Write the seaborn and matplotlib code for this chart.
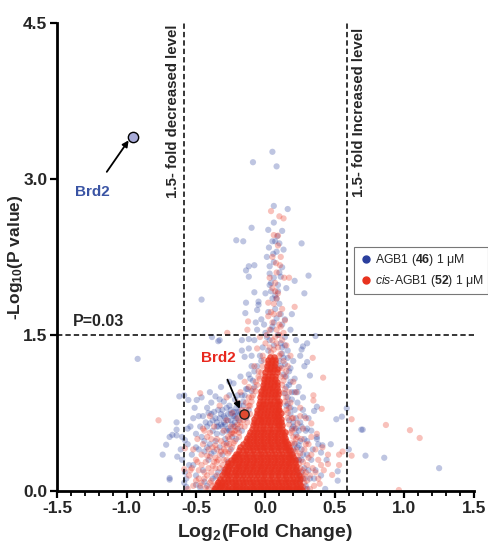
import numpy as np
import pandas as pd
import matplotlib
matplotlib.use("Agg")
import matplotlib.pyplot as plt
from matplotlib.lines import Line2D
from matplotlib.ticker import MultipleLocator
import seaborn as sns

# ---- data ----
# dense red core, where thousands of points overlap: (y in hundredths, list of x in hundredths)
red_core_rows = [
    (1, [-37, -34, -31, -28, -26, -23, -21, -18, -16, -13, -11, -8, -6, -3, -1, 2, 4, 7, 9, 12, 14, 17, 19, 22, 24, 26]),
    (3, [-36, -33, -30, -27, -24, -22, -19, -17, -14, -12, -9, -7, -4, -2, 1, 3, 6, 8, 11, 13, 16, 18, 21, 23, 25]),
    (6, [-35, -33, -31, -29, -26, -23, -21, -18, -16, -13, -10, -8, -5, -3, 0, 2, 5, 7, 10, 12, 15, 17, 20, 22, 25]),
    (9, [-34, -31, -29, -27, -24, -22, -19, -16, -14, -11, -9, -6, -4, -1, 1, 4, 6, 9, 11, 14, 16, 19, 21, 24]),
    (12, [-33, -30, -27, -25, -22, -20, -17, -15, -12, -10, -7, -5, -2, 0, 3, 5, 8, 10, 13, 15, 18, 20, 23, 25]),
    (15, [-31, -28, -26, -23, -21, -18, -16, -13, -11, -8, -6, -3, -1, 2, 4, 7, 9, 12, 14, 17, 19, 22, 24]),
    (18, [-30, -28, -25, -22, -20, -17, -15, -12, -10, -7, -5, -2, 0, 3, 5, 8, 10, 13, 15, 18, 20, 23]),
    (21, [-29, -27, -24, -21, -19, -16, -14, -11, -9, -6, -4, -1, 1, 4, 6, 9, 11, 14, 16, 19, 22]),
    (24, [-28, -26, -23, -20, -18, -15, -13, -10, -8, -5, -3, 0, 2, 5, 7, 10, 12, 15, 17, 20, 22]),
    (27, [-27, -25, -22, -19, -17, -14, -12, -9, -7, -4, -2, 1, 3, 6, 8, 11, 13, 16, 18, 21]),
    (30, [-25, -23, -21, -18, -16, -13, -11, -8, -6, -3, -1, 2, 4, 7, 9, 12, 14, 17, 19, 21]),
    (33, [-23, -22, -19, -17, -14, -12, -9, -7, -4, -2, 1, 3, 6, 8, 11, 13, 16, 18, 20]),
    (36, [-21, -20, -18, -15, -13, -10, -8, -5, -3, 0, 2, 5, 7, 10, 12, 15, 17, 19]),
    (39, [-19, -16, -14, -11, -9, -6, -4, -1, 1, 4, 6, 9, 11, 14, 16, 18]),
    (42, [-18, -15, -12, -10, -7, -5, -2, 0, 3, 5, 8, 10, 13, 15, 17]),
    (45, [-16, -13, -11, -8, -6, -3, -1, 2, 4, 7, 9, 12, 14, 16]),
    (48, [-14, -12, -9, -7, -4, -2, 1, 3, 6, 8, 11, 13, 15]),
    (51, [-13, -11, -8, -6, -3, -1, 2, 4, 7, 9, 12, 14]),
    (54, [-12, -9, -7, -4, -2, 1, 3, 6, 8, 11, 13]),
    (57, [-11, -8, -6, -3, -1, 2, 4, 7, 9, 12, 14]),
    (60, [-10, -7, -5, -2, 0, 3, 5, 8, 10, 12]),
    (63, [-9, -7, -4, -2, 1, 3, 6, 8, 10, 12]),
    (66, [-8, -6, -3, -1, 2, 4, 7, 9, 11]),
    (69, [-8, -5, -3, 0, 2, 5, 7, 9, 11]),
    (72, [-7, -4, -2, 1, 3, 6, 8, 10]),
    (75, [-6, -4, -1, 1, 4, 6, 8, 11]),
    (78, [-6, -3, -1, 2, 4, 7, 9, 10]),
    (81, [-5, -3, 0, 2, 5, 7, 9]),
    (84, [-5, -2, 0, 3, 5, 8, 10]),
    (87, [-4, -2, 1, 3, 6, 8, 10]),
    (90, [-4, -1, 1, 4, 6, 8]),
    (93, [-3, -1, 2, 4, 7, 9]),
    (96, [-3, 0, 2, 5, 7, 9]),
    (99, [-2, 0, 3, 5, 8]),
    (102, [-2, 1, 3, 6, 8]),
    (105, [-1, 1, 4, 6, 8]),
    (108, [-1, 2, 4, 7]),
    (111, [0, 2, 5, 7]),
    (114, [0, 3, 5, 8]),
    (117, [1, 3, 6, 8]),
    (120, [1, 4, 6]),
    (123, [2, 4, 7]),
    (126, [2, 5, 7]),
    (129, [3, 6]),
]

red_scatter = [
    (-0.54, 0.20), (-0.585, 0.21), (-0.58, 0.41), (-0.77, 0.68), (-0.47, 0.94), (-0.50, 0.30),
    (-0.45, 0.45), (-0.42, 0.15), (-0.40, 0.33), (-0.38, 0.05), (-0.36, 0.22), (-0.35, 0.40),
    (-0.33, 0.10), (-0.44, 0.58), (-0.48, 0.12), (-0.52, 0.05), (-0.46, 0.25), (-0.39, 0.50),
    (-0.34, 0.30), (-0.37, 0.62), (-0.32, 0.48), (-0.30, 0.58), (-0.28, 0.68), (-0.26, 0.45),
    (-0.25, 0.55), (-0.24, 0.75), (-0.22, 0.62), (-0.20, 0.85), (-0.18, 0.95), (-0.15, 1.05),
    (-0.12, 1.00), (-0.10, 0.90), (-0.43, 0.03), (-0.56, 0.02), (-0.40, 0.72), (-0.33, 0.82),
    (-0.28, 0.90), (-0.35, 0.15), (-0.31, 0.25), (-0.29, 0.38), (-0.41, 0.22), (-0.37, 0.28),
    (-0.50, 0.10), (-0.48, 0.20), (-0.46, 0.35), (-0.44, 0.12), (-0.43, 0.28), (-0.41, 0.40),
    (-0.40, 0.08), (-0.39, 0.18), (-0.38, 0.42), (-0.37, 0.02), (-0.36, 0.32), (-0.35, 0.50),
    (-0.34, 0.08), (-0.33, 0.22), (-0.32, 0.38), (-0.31, 0.05), (-0.30, 0.45), (-0.29, 0.15),
    (-0.28, 0.30), (-0.27, 0.52), (-0.26, 0.38), (-0.25, 0.62), (-0.24, 0.42), (-0.23, 0.55),
    (-0.22, 0.48), (-0.21, 0.58), (-0.20, 0.70), (-0.19, 0.52), (-0.18, 0.62), (-0.17, 0.78),
    (-0.16, 0.68), (-0.14, 0.85), (-0.13, 0.72), (-0.12, 0.90), (-0.11, 0.82), (-0.09, 0.98),
    (-0.07, 1.05), (-0.05, 1.15), (-0.52, 0.40), (-0.55, 0.15), (-0.49, 0.50), (-0.47, 0.05),
    (-0.45, 0.60), (-0.42, 0.52),
    (-0.36, 0.06), (-0.39, 0.10), (-0.41, 0.02), (-0.44, 0.18), (-0.38, 0.24), (-0.35, 0.28),
    (-0.33, 0.35), (-0.30, 0.40), (-0.28, 0.44), (-0.26, 0.50), (-0.24, 0.56), (-0.22, 0.58),
    (-0.20, 0.64), (-0.18, 0.66), (-0.16, 0.72), (-0.14, 0.78), (-0.12, 0.82), (-0.10, 0.86),
    (-0.09, 0.92), (-0.07, 0.96), (-0.06, 1.02), (-0.04, 1.08), (-0.03, 1.14), (-0.02, 1.20),
    (-0.01, 1.26), (-0.46, 0.08), (-0.42, 0.34), (-0.36, 0.44), (-0.30, 0.30), (-0.27, 0.36),
    (-0.23, 0.46), (-0.19, 0.56), (-0.15, 0.62), (-0.13, 0.66), (-0.11, 0.74), (-0.53, 0.22),
    (-0.49, 0.28), (-0.40, 0.56),
    (0.415, 1.09), (0.345, 0.92), (0.345, 0.87), (0.405, 0.79), (0.62, 0.69), (0.867, 0.635),
    (1.04, 0.585), (1.11, 0.51), (0.62, 0.34), (0.555, 0.38), (0.53, 0.35), (0.53, 0.25),
    (0.48, 0.155), (0.96, 0.01), (0.45, 0.35), (0.45, 0.26), (0.37, 0.55), (0.39, 0.07),
    (0.28, 0.40), (0.30, 0.25), (0.32, 0.15), (0.35, 0.05), (0.27, 0.60), (0.29, 0.70),
    (0.25, 0.80), (0.22, 0.95), (0.20, 1.05), (0.34, 1.28), (0.31, 0.45), (0.42, 0.20),
    (0.38, 0.30), (0.26, 0.50), (0.33, 0.65), (0.24, 0.30), (0.27, 0.12), (0.36, 0.18),
    (0.41, 0.42), (0.29, 0.02), (0.33, 0.35),
    (0.22, 0.10), (0.24, 0.20), (0.26, 0.05), (0.27, 0.28), (0.28, 0.15), (0.29, 0.45),
    (0.30, 0.10), (0.31, 0.32), (0.22, 0.50), (0.21, 0.38), (0.20, 0.70), (0.19, 0.58),
    (0.18, 0.85), (0.17, 0.95), (0.16, 0.75), (0.15, 1.15), (0.14, 0.98), (0.13, 1.25),
    (0.12, 1.18), (0.23, 0.65), (0.25, 0.72), (0.34, 0.22), (0.36, 0.40), (0.33, 0.52),
    (0.32, 0.02), (0.38, 0.12), (0.40, 0.25),
    (0.27, 0.04), (0.28, 0.08), (0.26, 0.14), (0.25, 0.22), (0.24, 0.26), (0.23, 0.34),
    (0.22, 0.40), (0.21, 0.46), (0.20, 0.52), (0.19, 0.46), (0.18, 0.56), (0.17, 0.64),
    (0.16, 0.70), (0.15, 0.78), (0.14, 0.86), (0.13, 0.94), (0.12, 1.02), (0.11, 1.10),
    (0.10, 1.18), (0.10, 1.30), (0.29, 0.18), (0.27, 0.20), (0.25, 0.36), (0.23, 0.52),
    (0.21, 0.60), (0.19, 0.70), (0.17, 0.80), (0.15, 0.90), (0.13, 1.06),
    (0.04, 2.69), (0.10, 2.64), (0.13, 2.62), (0.06, 2.46), (0.09, 2.455), (0.09, 2.36),
    (0.11, 2.25), (0.076, 2.19), (0.104, 2.17), (0.135, 2.05), (0.17, 2.05), (0.02, 1.81),
    (0.21, 1.77), (-0.125, 1.63), (0.14, 1.64), (-0.275, 1.52), (-0.13, 1.55), (-0.06, 1.37),
    (0.05, 1.95), (0.08, 1.85), (0.06, 1.70), (0.10, 1.60), (0.03, 1.55), (0.07, 1.48),
    (0.12, 1.45), (0.00, 1.42), (0.09, 1.38), (0.04, 1.33), (0.11, 1.32), (-0.02, 1.30),
    (0.15, 1.40), (0.05, 1.62), (0.02, 1.68), (0.12, 1.75), (0.07, 2.00), (0.09, 1.90),
    (0.13, 1.52), (-0.04, 1.48), (0.18, 1.30), (0.16, 1.20), (0.14, 1.10), (-0.08, 1.20),
    (-0.05, 1.10), (0.08, 1.42), (0.06, 1.36), (0.10, 1.50),
    (0.03, 1.38), (0.05, 1.45), (0.08, 1.55), (0.04, 1.72), (0.06, 1.80), (0.10, 1.70),
    (0.07, 1.92), (0.03, 2.05), (0.08, 2.10), (0.05, 2.25), (0.01, 1.50), (0.11, 1.58),
]

blue_scatter = [
    (0.05, 3.26), (-0.09, 3.16), (0.08, 3.12), (0.06, 2.74), (0.16, 2.71), (0.06, 2.58),
    (-0.10, 2.53), (0.02, 2.51), (0.12, 2.50), (0.085, 2.45), (-0.21, 2.41), (-0.16, 2.40),
    (0.10, 2.38), (0.26, 2.38), (0.025, 2.34), (0.13, 2.32), (0.056, 2.28), (-0.08, 2.17),
    (-0.12, 2.16), (-0.14, 2.12), (0.03, 2.16), (0.03, 2.09), (-0.12, 2.06), (0.11, 2.06),
    (0.31, 2.07), (0.21, 2.02), (0.09, 1.98), (0.04, 1.92), (-0.08, 1.91), (0.28, 1.90),
    (-0.46, 1.84), (-0.14, 1.81), (-0.05, 1.82), (-0.05, 1.79), (-0.145, 1.71), (-0.06, 1.74),
    (0.19, 1.70), (-0.07, 1.62), (-0.06, 1.55), (-0.385, 1.48), (-0.33, 1.45), (-0.17, 1.45),
    (-0.12, 1.46), (0.36, 1.49), (0.30, 1.42), (0.27, 1.39), (0.26, 1.36), (0.25, 1.30),
    (-0.12, 1.37), (-0.17, 1.35), (-0.10, 1.30), (-0.15, 1.29), (0.30, 1.24), (-0.34, 1.44),
    (-0.92, 1.27),
    (0.04, 2.00), (0.07, 1.88), (0.10, 1.80), (0.02, 1.72), (0.08, 1.66), (0.12, 1.60),
    (0.05, 1.58), (0.00, 1.52), (0.09, 1.50), (0.14, 1.48), (0.03, 1.45), (0.11, 1.42),
    (0.06, 1.40), (0.16, 1.35), (-0.02, 1.38), (0.13, 1.28), (0.20, 1.25), (0.08, 1.85),
    (0.15, 1.95), (-0.03, 1.65), (0.18, 1.55), (0.22, 1.45), (-0.08, 1.45), (0.06, 2.20),
    (0.01, 2.25), (0.07, 2.40), (0.11, 1.70), (0.17, 1.15), (0.21, 1.08), (0.24, 1.00),
    (0.19, 0.95), (0.27, 0.90), (0.23, 0.85),
    (0.01, 1.48), (0.04, 1.55), (0.06, 1.62), (0.07, 1.75), (0.05, 1.85), (0.09, 1.92),
    (0.03, 1.98), (0.10, 2.10), (0.08, 2.30), (0.05, 2.40), (-0.01, 1.60), (0.12, 1.38),
    (0.02, 1.35), (0.10, 1.25), (0.07, 1.20), (-0.03, 1.25), (0.14, 1.65), (0.00, 1.90),
    (0.06, 2.05), (0.12, 2.15),
    (-0.62, 0.91), (-0.585, 0.92), (-0.64, 0.66), (-0.64, 0.59), (-0.67, 0.54), (-0.64, 0.535),
    (-0.69, 0.52), (-0.715, 0.445), (-0.58, 0.49), (-0.74, 0.35), (-0.635, 0.33), (-0.69, 0.125),
    (-0.69, 0.11), (-0.585, 0.08), (-0.555, 0.875), (-0.495, 0.875), (-0.36, 0.91), (-0.23, 1.035),
    (-0.18, 1.10), (-0.60, 0.52), (-0.56, 0.60), (-0.52, 0.70), (-0.50, 0.55), (-0.47, 0.62),
    (-0.45, 0.72), (-0.42, 0.80), (-0.40, 0.65), (-0.38, 0.58), (-0.36, 0.70), (-0.34, 0.78),
    (-0.32, 0.64), (-0.30, 0.72), (-0.28, 0.80), (-0.27, 0.60), (-0.25, 0.68), (-0.23, 0.76),
    (-0.21, 0.70), (-0.19, 0.82), (-0.22, 0.88), (-0.26, 0.92), (-0.30, 0.86), (-0.17, 0.92),
    (-0.14, 0.98), (-0.11, 1.08), (-0.08, 1.15), (-0.20, 0.60), (-0.24, 0.52), (-0.29, 0.50),
    (-0.33, 0.42), (-0.37, 0.38), (-0.41, 0.30), (-0.45, 0.20), (-0.50, 0.15), (-0.53, 0.35),
    (-0.55, 0.25), (-0.48, 0.40), (-0.44, 0.48), (-0.40, 0.45), (-0.35, 0.55), (-0.31, 0.35),
    (-0.27, 0.28), (-0.38, 0.12), (-0.34, 0.18), (-0.42, 0.05), (-0.57, 0.12), (-0.60, 0.30),
    (-0.61, 0.40), (-0.51, 0.80), (-0.46, 0.90), (-0.40, 0.95), (-0.32, 1.00), (-0.26, 1.05),
    (-0.43, 0.66), (-0.39, 0.74), (-0.35, 0.62), (-0.31, 0.56), (-0.27, 0.74), (-0.22, 0.66),
    (-0.33, 0.70), (-0.29, 0.64), (-0.25, 0.78), (-0.21, 0.76), (-0.37, 0.76), (-0.19, 0.68),
    (-0.57, 0.04), (-0.50, 0.06), (-0.47, 0.03), (-0.44, 0.09),
    (-0.58, 0.18), (-0.56, 0.45), (-0.54, 0.62), (-0.52, 0.25), (-0.50, 0.42), (-0.48, 0.72),
    (-0.46, 0.52), (-0.44, 0.38), (-0.42, 0.62), (-0.41, 0.75), (-0.39, 0.85), (-0.38, 0.68),
    (-0.36, 0.48), (-0.34, 0.62), (-0.33, 0.88), (-0.31, 0.78), (-0.29, 0.70), (-0.28, 0.58),
    (-0.26, 0.82), (-0.24, 0.64), (-0.23, 0.72), (-0.21, 0.80), (-0.20, 0.92), (-0.18, 0.74),
    (-0.16, 0.82), (-0.15, 0.92), (-0.13, 0.98), (-0.12, 1.12), (-0.10, 1.20), (-0.09, 1.06),
    (-0.30, 0.66), (-0.27, 0.68), (-0.32, 0.74), (-0.35, 0.66), (-0.25, 0.74), (-0.22, 0.72),
    (-0.28, 0.46), (-0.25, 0.40), (-0.21, 0.50), (-0.17, 0.58), (-0.14, 0.70), (-0.12, 0.78),
    (-0.10, 0.96), (-0.08, 1.00), (-0.06, 1.20), (-0.04, 1.30), (-0.30, 0.20), (-0.33, 0.04),
    (-0.36, 0.14), (-0.39, 0.36), (-0.42, 0.42), (-0.31, 0.62), (-0.26, 0.58), (-0.23, 0.62),
    (-0.19, 0.76), (-0.16, 0.86),
    (0.585, 0.795), (0.55, 0.715), (0.51, 0.69), (0.69, 0.59), (0.70, 0.59), (0.60, 0.40),
    (0.72, 0.34), (0.855, 0.32), (1.25, 0.22), (0.52, 0.19), (0.52, 0.10), (0.40, 0.37),
    (0.38, 0.45), (0.41, 0.44), (0.37, 0.50), (0.37, 0.52), (0.43, 0.02), (0.32, 1.11),
    (0.28, 1.20), (0.37, 0.81), (0.35, 0.77), (0.30, 0.60), (0.28, 0.50), (0.26, 0.40),
    (0.24, 0.30), (0.22, 0.20), (0.25, 0.10), (0.29, 0.05), (0.33, 0.30), (0.31, 0.70),
    (0.27, 0.78), (0.22, 0.70), (0.20, 0.62), (0.18, 0.80), (0.16, 0.90), (0.24, 0.58),
    (0.34, 0.40), (0.36, 0.20), (0.32, 0.12), (0.30, 0.35), (0.26, 0.18), (0.21, 0.45),
    (0.19, 0.35), (0.23, 0.95), (0.15, 1.00), (0.18, 1.05), (0.40, 0.15), (0.44, 0.30),
    (0.47, 0.45),
    (0.15, 1.10), (0.17, 1.02), (0.19, 0.88), (0.21, 0.78), (0.22, 0.60), (0.23, 0.42),
    (0.24, 0.15), (0.25, 0.48), (0.26, 0.62), (0.27, 0.35), (0.28, 0.22), (0.29, 0.58),
    (0.30, 0.48), (0.31, 0.20), (0.33, 0.58), (0.35, 0.12), (0.21, 0.95), (0.18, 1.18),
    (0.14, 1.22), (0.16, 1.28),
    (0.14, 0.94), (0.16, 0.84), (0.18, 0.74), (0.20, 0.66), (0.22, 0.54), (0.24, 0.44),
    (0.26, 0.30), (0.28, 0.12), (0.30, 0.02), (0.20, 0.40), (0.22, 0.30), (0.19, 0.60),
    (0.17, 0.68), (0.15, 0.82), (0.13, 1.12), (0.12, 1.32), (0.14, 1.40), (0.11, 1.20),
    (0.25, 0.66), (0.28, 0.72),
]

brd2_blue = (-0.953, 3.40)
brd2_red = (-0.155, 0.74)
fold_cut = 0.585   # log2(1.5)
p_cut = 1.5

x_ticks = [-1.5, -1.0, -0.5, 0.0, 0.5, 1.0, 1.5]
y_ticks = [0.0, 1.5, 3.0, 4.5]

BLUE = "#2a3f9d"
RED = "#e8321e"

# ---- build tables ----
core_df = pd.DataFrame([(x / 100, y / 100) for y, xs in red_core_rows for x in xs], columns=["fc", "p"])
df = pd.concat([
    pd.DataFrame(blue_scatter, columns=["fc", "p"]).assign(group="AGB1"),
    pd.DataFrame(red_scatter, columns=["fc", "p"]).assign(group="cis"),
], ignore_index=True)

sns.set_theme(style="ticks")
plt.rcParams["font.family"] = ["Liberation Sans", "DejaVu Sans"]
plt.rcParams["mathtext.fontset"] = "custom"
plt.rcParams["mathtext.rm"] = "Liberation Sans"
plt.rcParams["mathtext.it"] = "Liberation Sans:italic"
plt.rcParams["mathtext.bf"] = "Liberation Sans:bold"

fig = plt.figure(figsize=(4.88, 5.42), dpi=100)
ax = fig.add_axes([0.117, 0.094, 0.854, 0.864])

sns.scatterplot(data=df, x="fc", y="p", hue="group", palette={"AGB1": BLUE, "cis": RED},
                s=20, alpha=0.3, linewidth=0, legend=False, ax=ax)
# the saturated centre of the red cloud
sns.scatterplot(data=core_df, x="fc", y="p", color=RED, s=22, alpha=0.75, linewidth=0,
                legend=False, ax=ax)

# highlighted Brd2 points
ax.scatter([brd2_blue[0]], [brd2_blue[1]], s=55, color="#a8abd8", edgecolor="black", linewidth=1.0, zorder=5)
ax.scatter([brd2_red[0]], [brd2_red[1]], s=45, color="#e04a30", edgecolor="#222222", linewidth=1.0, zorder=5)

# threshold lines
ax.axvline(-fold_cut, color="black", lw=1.1, ls=(0, (3.5, 2)))
ax.axvline(fold_cut, color="black", lw=1.1, ls=(0, (3.5, 2)))
ax.axhline(p_cut, color="black", lw=1.1, ls=(0, (3.5, 2)))

ax.text(-0.665, 4.48, "1.5- fold decreased level", rotation=90, ha="center", va="top",
        fontsize=10.8, fontweight="bold")
ax.text(0.673, 4.45, "1.5- fold Increased level", rotation=90, ha="center", va="top",
        fontsize=10.8, fontweight="bold")
ax.text(-1.39, 1.56, "P=0.03", ha="left", va="bottom", fontsize=11.5, fontweight="bold")

ax.annotate("Brd2", xy=(-0.985, 3.37), xytext=(-1.245, 2.87), ha="center", va="center",
            fontsize=11, fontweight="bold", color="#3a54a4",
            arrowprops=dict(arrowstyle="-|>", color="black", lw=1.3, mutation_scale=9,
                            shrinkA=9, shrinkB=0))
ax.annotate("Brd2", xy=(-0.185, 0.79), xytext=(-0.34, 1.28), ha="center", va="center",
            fontsize=11, fontweight="bold", color="#e8281e",
            arrowprops=dict(arrowstyle="-|>", color="black", lw=1.3, mutation_scale=9,
                            shrinkA=9, shrinkB=0))

# axes styling
ax.set_xlim(-1.5, 1.5)
ax.set_ylim(0, 4.5)
ax.set_xticks(x_ticks)
ax.set_xticklabels([f"{t:.1f}" for t in x_ticks])
ax.set_yticks(y_ticks)
ax.set_yticklabels([f"{t:.1f}" for t in y_ticks])
ax.xaxis.set_minor_locator(MultipleLocator(0.1))
sns.despine(ax=ax)
for side in ["left", "bottom"]:
    ax.spines[side].set_linewidth(2.0)
    ax.spines[side].set_color("black")
ax.tick_params(axis="both", which="major", length=5, width=1.6, color="black",
               labelsize=12.5, pad=2)
ax.tick_params(axis="x", which="minor", length=3.5, width=1.3, color="black")
for lab in ax.get_xticklabels() + ax.get_yticklabels():
    lab.set_fontweight("bold")

ax.set_xlabel(r"Log$_{\mathbf{2}}$(Fold Change)", fontsize=14, fontweight="bold")
ax.set_ylabel(r"-Log$_{\mathbf{10}}$(P value)", fontsize=12.5, fontweight="bold")
ax.xaxis.set_label_coords(0.5, -0.066)
ax.yaxis.set_label_coords(-0.077, 0.5)

handles = [
    Line2D([], [], ls="", marker="o", ms=5, color=BLUE, label="AGB1 ($\\mathbf{46}$) 1 μM"),
    Line2D([], [], ls="", marker="o", ms=5, color=RED, label="$\\mathit{cis}$-AGB1 ($\\mathbf{52}$) 1 μM"),
]
leg = ax.legend(handles=handles, loc="upper left", bbox_to_anchor=(0.712, 0.521), fontsize=8.8,
                frameon=True, fancybox=False, edgecolor="#555555", handletextpad=0.1,
                borderpad=0.4, labelspacing=0.4, handlelength=1.2, borderaxespad=0)
leg.get_frame().set_linewidth(0.8)

fig.savefig("out.png", dpi=100)
